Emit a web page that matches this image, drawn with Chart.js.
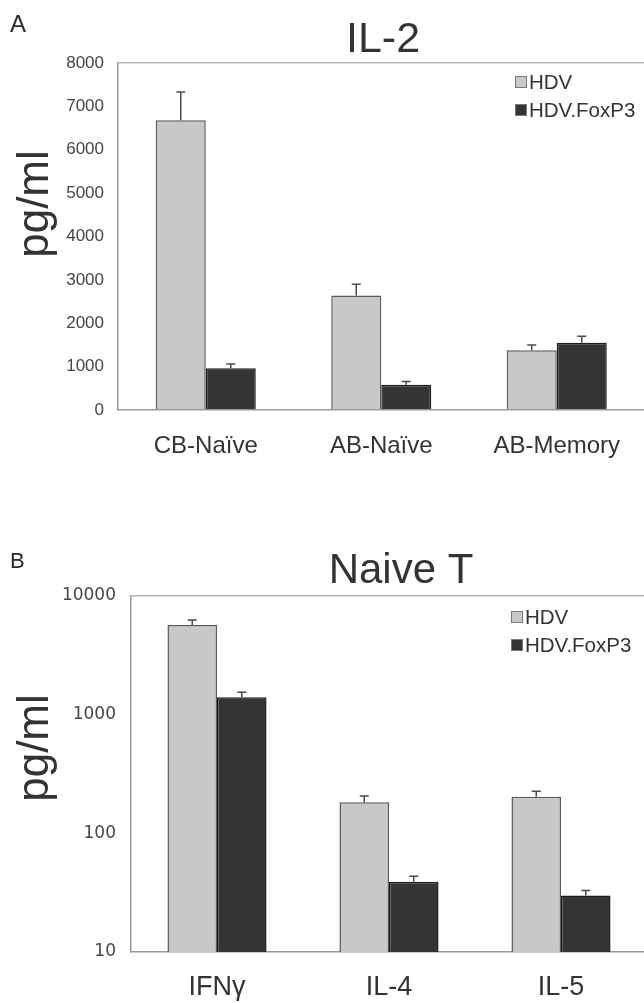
<!DOCTYPE html>
<html><head><meta charset="utf-8">
<script src="https://cdn.jsdelivr.net/npm/chart.js@4.4.1/dist/chart.umd.min.js"></script>
<style>
html,body{margin:0;padding:0;background:#fff;overflow:hidden;width:644px;height:1003px;position:relative;}
canvas{position:absolute;left:0;}
#c1{top:0}
#c2{top:500px}
</style></head><body>
<canvas id="c1" width="650" height="500"></canvas>
<canvas id="c2" width="652" height="503"></canvas>
<script>
// ---- Data ----
const seriesNames = ['HDV', 'HDV.FoxP3'];

const categoriesA = ['CB-Naïve', 'AB-Naïve', 'AB-Memory'];
const hdvA = [6680, 2640, 1380];
const hdvErrA = [650, 260, 120];
const foxA = [960, 580, 1550];
const foxErrA = [100, 75, 150];
const yTicksA = [0, 1000, 2000, 3000, 4000, 5000, 6000, 7000, 8000];

const categoriesB = ['IFNγ', 'IL-4', 'IL-5'];
const hdvB = [5700, 183, 203];
const hdvErrB = [580, 23, 23];
const foxB = [1400, 39, 30];
const foxErrB = [145, 4.5, 3];
const yTicksB = [10, 100, 1000, 10000];

const SANS = '"Liberation Sans", Arial, Helvetica, sans-serif';
const HDV_FILL = '#c8c8c8', HDV_BORDER = '#5a5a5a';
const FOX_FILL = '#353535', FOX_BORDER = '#1e1e1e';

// ---- Plugins ----
const errorBars = {
  id: 'errorBars',
  afterDatasetsDraw(chart) {
    const ctx = chart.ctx;
    const ys = chart.scales.y;
    chart.data.datasets.forEach((ds, i) => {
      const meta = chart.getDatasetMeta(i);
      if (!ds.errors) return;
      meta.data.forEach((el, j) => {
        const v = ds.data[j], e = ds.errors[j];
        const yTop = el.y;
        const yErr = ys.getPixelForValue(v + e);
        ctx.save();
        ctx.strokeStyle = '#4a4a4a';
        ctx.lineWidth = 1.5;
        ctx.beginPath();
        ctx.moveTo(el.x, yTop);
        ctx.lineTo(el.x, yErr);
        ctx.moveTo(el.x - 4.5, yErr);
        ctx.lineTo(el.x + 4.5, yErr);
        ctx.stroke();
        ctx.restore();
      });
    });
  }
};

const decor = {
  id: 'decor',
  afterDraw(chart, args, o) {
    const ctx = chart.ctx;
    ctx.save();
    ctx.fillStyle = '#2a2a2a';
    // panel letter
    ctx.font = o.panelSize + 'px ' + SANS;
    ctx.textAlign = 'left';
    ctx.textBaseline = 'alphabetic';
    ctx.fillText(o.panel, o.panelX, o.panelY);
    // title
    ctx.fillStyle = '#333';
    ctx.font = o.titleSize + 'px ' + SANS;
    ctx.textAlign = 'center';
    ctx.fillText(o.title, o.titleX, o.titleY);
    // y axis title
    ctx.save();
    ctx.translate(o.ylabX, o.ylabY);
    ctx.rotate(-Math.PI / 2);
    ctx.font = o.ylabSize + 'px ' + SANS;
    ctx.textAlign = 'center';
    ctx.textBaseline = 'alphabetic';
    ctx.fillText(o.ylab, 0, 0);
    ctx.restore();
    // legend
    ctx.font = '20.5px ' + SANS;
    ctx.textAlign = 'left';
    ctx.textBaseline = 'middle';
    chart.data.datasets.forEach((ds, i) => {
      const cy = o.legY + i * 28;
      ctx.fillStyle = ds.backgroundColor;
      ctx.fillRect(o.legX, cy - 6, 12, 12);
      ctx.strokeStyle = '#777';
      ctx.lineWidth = 1;
      ctx.strokeRect(o.legX + 0.5, cy - 5.5, 11, 11);
      ctx.fillStyle = '#333';
      ctx.fillText(ds.label, o.legX + 14, cy + 1);
    });
    ctx.restore();
  }
};

function makeChart(id, cats, a, aErr, b, bErr, yTicks, cfg) {
  const yMax = yTicks[yTicks.length - 1];
  return new Chart(document.getElementById(id), {
    type: 'bar',
    data: {
      labels: cats,
      datasets: [
        { label: seriesNames[0], data: a, errors: aErr, backgroundColor: HDV_FILL, borderColor: HDV_BORDER, borderWidth: 1.5 },
        { label: seriesNames[1], data: b, errors: bErr, backgroundColor: FOX_FILL, borderColor: FOX_BORDER, borderWidth: 1.5 }
      ]
    },
    options: {
      responsive: false,
      animation: false,
      devicePixelRatio: 1,
      layout: { padding: { top: cfg.top, right: cfg.right, left: 0, bottom: 0 } },
      datasets: { bar: { categoryPercentage: cfg.catPct, barPercentage: 1 } },
      plugins: {
        legend: { display: false },
        tooltip: { enabled: false },
        title: { display: false },
        decor: cfg.decor
      },
      scales: {
        x: {
          grid: { drawTicks: false, color: 'rgba(0,0,0,0)' },
          border: { display: true, color: '#9a9a9a', width: 1.5 },
          ticks: { color: '#333', font: { family: SANS, size: cfg.xFont }, padding: cfg.xPad, maxRotation: 0, autoSkip: false },
          afterFit: s => { s.height = cfg.xHeight; }
        },
        y: {
          type: cfg.log ? 'logarithmic' : 'linear',
          min: yTicks[0],
          max: yMax,
          grid: {
            drawTicks: false,
            lineWidth: 1.5,
            color: c => (c.tick && c.tick.value === yMax) ? '#b4b4b4' : 'rgba(0,0,0,0)'
          },
          border: { display: true, color: '#9a9a9a', width: 1.5 },
          afterBuildTicks: s => { s.ticks = yTicks.map(v => ({ value: v })); },
          ticks: {
            color: '#454545',
            font: { family: cfg.yFamily, size: 17 },
            padding: cfg.yPad,
            callback: v => String(v)
          },
          afterFit: s => { s.width = cfg.yWidth; }
        }
      }
    },
    plugins: [errorBars, decor]
  });
}

makeChart('c1', categoriesA, hdvA, hdvErrA, foxA, foxErrA, yTicksA, {
  top: 63, right: 5.5, catPct: 0.57, xFont: 24, xPad: 22, xHeight: 90,
  log: false, yFamily: SANS, yPad: 14, yWidth: 118,
  decor: { panel: 'A', panelSize: 24, panelX: 10, panelY: 32,
           title: 'IL-2', titleSize: 43, titleX: 383, titleY: 52,
           ylab: 'pg/ml', ylabSize: 44, ylabX: 48, ylabY: 204,
           legX: 515, legY: 82 }
});

makeChart('c2', categoriesB, hdvB, hdvErrB, foxB, foxErrB, yTicksB, {
  top: 96, right: 5, catPct: 0.576, xFont: 27, xPad: 19, xHeight: 51,
  log: true, yFamily: '"DejaVu Sans", Verdana, sans-serif', yPad: 15, yWidth: 131,
  decor: { panel: 'B', panelSize: 22, panelX: 10, panelY: 68,
           title: 'Naive T', titleSize: 42, titleX: 401, titleY: 83,
           ylab: 'pg/ml', ylabSize: 44, ylabX: 48, ylabY: 248,
           legX: 511, legY: 117 }
});
</script>
</body></html>
